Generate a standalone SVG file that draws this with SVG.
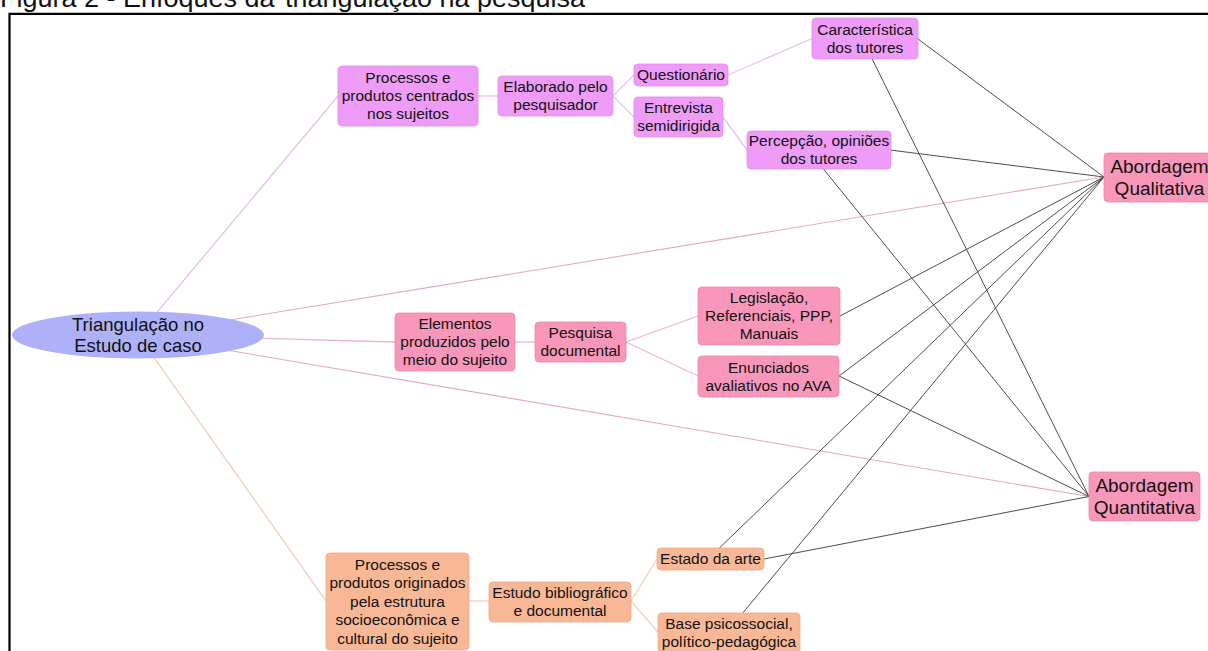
<svg xmlns="http://www.w3.org/2000/svg" width="1208" height="651" viewBox="0 0 1208 651">
<style>
.bg{fill:#ffffff}
.frame{fill:none;stroke:#000;stroke-width:2.2}
.title{font-family:"Liberation Sans",Arial,sans-serif;font-size:26px;fill:#111}
.t{font-family:"Liberation Sans",Arial,sans-serif;font-size:15.5px;fill:#111;text-anchor:middle}
.tb{font-family:"Liberation Sans",Arial,sans-serif;font-size:19px;fill:#111;text-anchor:middle}
.te{font-family:"Liberation Sans",Arial,sans-serif;font-size:18.5px;fill:#111;text-anchor:middle}
.v{fill:#EE9CF7;stroke:#E08EEA;stroke-width:0.8}
.p{fill:#F897BA;stroke:#EA89AD;stroke-width:0.8}
.s{fill:#F9B895;stroke:#EDAA88;stroke-width:0.8}
.e{fill:#AEB0F8}
.lv{stroke:#E4C2EC;stroke-width:1.3;fill:none}
.lp{stroke:#EBB8C9;stroke-width:1.3;fill:none}
.ls{stroke:#F2D0BF;stroke-width:1.3;fill:none}
.lpx{stroke:#E4A9BF;stroke-width:1.1;fill:none}
.lx{stroke:#444;stroke-width:0.95;fill:none}
</style>
<rect class="bg" x="0" y="0" width="1208" height="651"/>
<text class="title" x="0" y="7" textLength="585" lengthAdjust="spacingAndGlyphs">Figura 2 - Enfoques da <tspan dx="3">triangulação na pesquisa</tspan></text>
<path class="frame" d="M9.5,651 V13.8 H1208"/>
<g id="connectors">
  <line class="lv" x1="138" y1="335" x2="338" y2="96"/>
  <line class="lp" x1="138" y1="335" x2="395" y2="342"/>
  <line class="ls" x1="138" y1="335" x2="326" y2="601"/>
  <line class="lv" x1="478" y1="96" x2="498" y2="96"/>
  <line class="lv" x1="613" y1="96" x2="634" y2="75"/>
  <line class="lv" x1="613" y1="96" x2="634" y2="117"/>
  <line class="lv" x1="728" y1="75" x2="812" y2="38.5"/>
  <line class="lv" x1="723" y1="117" x2="747" y2="150"/>
  <line class="lp" x1="515" y1="342" x2="535" y2="342"/>
  <line class="lp" x1="626" y1="342" x2="698" y2="316"/>
  <line class="lp" x1="626" y1="342" x2="698" y2="376"/>
  <line class="ls" x1="469" y1="601" x2="489" y2="601"/>
  <line class="ls" x1="631" y1="601" x2="657" y2="559"/>
  <line class="ls" x1="631" y1="601" x2="658" y2="632"/>
  <line class="lpx" x1="138" y1="335" x2="1104" y2="177"/>
  <line class="lpx" x1="138" y1="335" x2="1089" y2="496.5"/>
  <line class="lx" x1="918" y1="39" x2="1104" y2="177"/>
  <line class="lx" x1="890" y1="150" x2="1104" y2="177"/>
  <line class="lx" x1="840" y1="316" x2="1104" y2="177"/>
  <line class="lx" x1="839" y1="376" x2="1104" y2="177"/>
  <line class="lx" x1="708" y1="559" x2="1104" y2="177"/>
  <line class="lx" x1="727" y1="632" x2="1104" y2="177"/>
  <line class="lx" x1="862" y1="38.5" x2="1089" y2="496.5"/>
  <line class="lx" x1="808" y1="150" x2="1089" y2="496.5"/>
  <line class="lx" x1="839" y1="376" x2="1089" y2="496.5"/>
  <line class="lx" x1="764" y1="559" x2="1089" y2="496.5"/>
</g>
<g id="root">
  <ellipse class="e" cx="138" cy="335" rx="126" ry="23.5"/>
  <text class="te" x="138" y="331">Triangulação no</text>
  <text class="te" x="138" y="352">Estudo de caso</text>
</g>
<g id="proc-sujeitos">
  <rect class="v" x="338" y="66" width="140" height="60" rx="4"/>
  <text class="t" x="408" y="83">Processos e</text>
  <text class="t" x="408" y="101">produtos centrados</text>
  <text class="t" x="408" y="119">nos sujeitos</text>
</g>
<g id="elaborado">
  <rect class="v" x="498" y="76" width="115" height="40" rx="4"/>
  <text class="t" x="555.5" y="92">Elaborado pelo</text>
  <text class="t" x="555.5" y="110">pesquisador</text>
</g>
<g id="questionario">
  <rect class="v" x="634" y="64" width="94" height="22" rx="4"/>
  <text class="t" x="681" y="80" textLength="88" lengthAdjust="spacingAndGlyphs">Questionário</text>
</g>
<g id="entrevista">
  <rect class="v" x="634" y="97" width="89" height="40" rx="4"/>
  <text class="t" x="678.5" y="113">Entrevista</text>
  <text class="t" x="678.5" y="131">semidirigida</text>
</g>
<g id="caracteristica">
  <rect class="v" x="812" y="18" width="106" height="41" rx="4"/>
  <text class="t" x="865" y="34.5">Característica</text>
  <text class="t" x="865" y="52.5">dos tutores</text>
</g>
<g id="percepcao">
  <rect class="v" x="747" y="131" width="144" height="38" rx="4"/>
  <text class="t" x="819" y="146">Percepção, opiniões</text>
  <text class="t" x="819" y="164">dos tutores</text>
</g>
<g id="qualitativa">
  <rect class="p" x="1104" y="153" width="111" height="49" rx="4"/>
  <text class="tb" x="1159.5" y="173">Abordagem</text>
  <text class="tb" x="1159.5" y="195">Qualitativa</text>
</g>
<g id="elementos">
  <rect class="p" x="395" y="313" width="120" height="58" rx="4"/>
  <text class="t" x="455" y="329">Elementos</text>
  <text class="t" x="455" y="347">produzidos pelo</text>
  <text class="t" x="455" y="365">meio do sujeito</text>
</g>
<g id="pesquisa">
  <rect class="p" x="535" y="322" width="91" height="40" rx="4"/>
  <text class="t" x="580.5" y="338">Pesquisa</text>
  <text class="t" x="580.5" y="356">documental</text>
</g>
<g id="legislacao">
  <rect class="p" x="698" y="287" width="142" height="58" rx="4"/>
  <text class="t" x="769" y="303">Legislação,</text>
  <text class="t" x="769" y="321">Referenciais, PPP,</text>
  <text class="t" x="769" y="339">Manuais</text>
</g>
<g id="enunciados">
  <rect class="p" x="698" y="356" width="141" height="41" rx="4"/>
  <text class="t" x="768.5" y="372.5">Enunciados</text>
  <text class="t" x="768.5" y="390.5">avaliativos no AVA</text>
</g>
<g id="quantitativa">
  <rect class="p" x="1089" y="472" width="111" height="49" rx="4"/>
  <text class="tb" x="1144.5" y="492">Abordagem</text>
  <text class="tb" x="1144.5" y="514">Quantitativa</text>
</g>
<g id="proc-originados">
  <rect class="s" x="326" y="553" width="143" height="97" rx="4"/>
  <text class="t" x="397.5" y="569.5">Processos e</text>
  <text class="t" x="397.5" y="588">produtos originados</text>
  <text class="t" x="397.5" y="606.5">pela estrutura</text>
  <text class="t" x="397.5" y="625">socioeconômica e</text>
  <text class="t" x="397.5" y="643.5">cultural do sujeito</text>
</g>
<g id="estudo-bib">
  <rect class="s" x="489" y="582" width="142" height="40" rx="4"/>
  <text class="t" x="560" y="598">Estudo bibliográfico</text>
  <text class="t" x="560" y="616">e documental</text>
</g>
<g id="estado">
  <rect class="s" x="657" y="548" width="107" height="22" rx="4"/>
  <text class="t" x="710.5" y="564">Estado da arte</text>
</g>
<g id="base">
  <rect class="s" x="658" y="613" width="142" height="42" rx="4"/>
  <text class="t" x="729" y="629">Base psicossocial,</text>
  <text class="t" x="729" y="647">político-pedagógica</text>
</g>
</svg>
